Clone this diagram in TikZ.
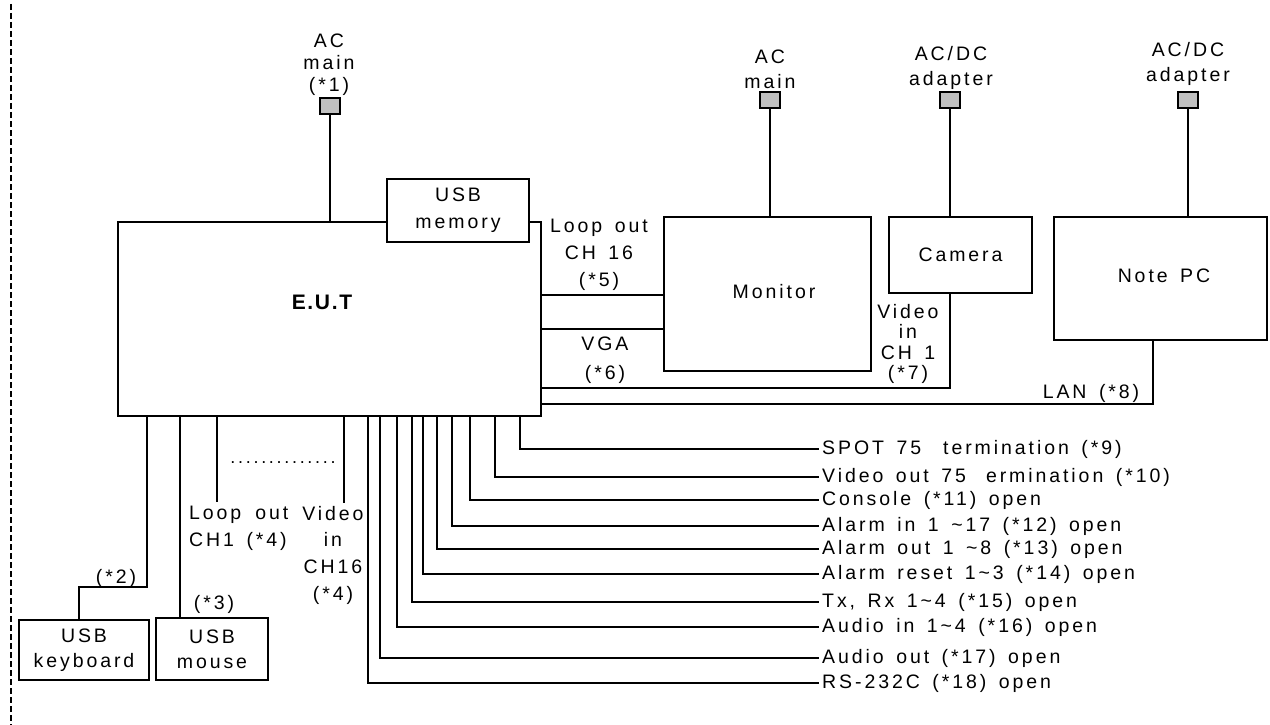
\documentclass[tikz,border=0pt]{standalone}
\usepackage{fontspec}
\setmainfont{Liberation Sans}
\newfontfamily\spfont[LetterSpace=15,WordSpace=1.5]{Liberation Sans}
\newfontfamily\bdfont[LetterSpace=8]{Liberation Sans Bold}
\definecolor{plugGray}{HTML}{C0C0C0}
\begin{document}
\begin{tikzpicture}[x=1pt,y=-1pt,
  every node/.style={font=\spfont\fontsize{19.5}{22}\selectfont, inner sep=0pt, align=center},
  box/.style={draw, line width=1.4pt, fill=white},
  plug/.style={draw, line width=1.4pt, fill=plugGray, minimum width=20pt, minimum height=16pt},
  wire/.style={line width=1.4pt},
  lsA/.style={font=\spfont\fontsize{19.5}{22}\selectfont},
  lsB/.style={font=\spfont\fontsize{19.5}{25}\selectfont},
  lsC/.style={font=\spfont\fontsize{19.5}{27}\selectfont},
  lsD/.style={font=\spfont\fontsize{19.5}{29}\selectfont},
  lsE/.style={font=\spfont\fontsize{19.5}{20.5}\selectfont},
  port/.style={anchor=west, inner xsep=3pt}]
\useasboundingbox (0,0) rectangle (1270,725);

% left boundary
\draw[dash pattern=on 6pt off 3pt, line width=1.5pt] (11,4) -- (11,725);

% main boxes
\node[box, minimum width=423pt, minimum height=194pt] (eut) at (329.5,319) {};
\node[font=\bdfont\fontsize{21}{24}\selectfont] (euttxt) at (322,302) {E.U.T};
\node[box, lsC, minimum width=142pt, minimum height=63pt] (mem) at (458,210.5) {USB\\memory};
\node[box, minimum width=207pt, minimum height=154pt] (mon) at (767.5,294) {};
\node (montxt) at (774,292) {Monitor};
\node[box, minimum width=143pt, minimum height=76pt] (cam) at (960.5,255) {Camera};
\node[box, minimum width=213pt, minimum height=123pt] (pc) at (1160.5,278.5) {};
\node (pctxt) at (1164,276) {Note PC};
\node[box, lsB, minimum width=130pt, minimum height=60pt] (kb) at (84,650) {USB\\keyboard};
\node[box, lsB, minimum width=112pt, minimum height=62pt] (mouse) at (212,649) {USB\\mouse};

% power plugs
\node[plug] (p1) at (330,106) {};
\node[plug] (p2) at (770,100) {};
\node[plug] (p3) at (950,100) {};
\node[plug] (p4) at (1188,100) {};
\node[lsA] (p1l) at (329,64.5) {AC\\main\\(*1)};
\node[lsB] (p2l) at (770,69) {AC\\main};
\node[lsB] (p3l) at (951,68) {AC/DC\\adapter};
\node[lsB] (p4l) at (1188,63.5) {AC/DC\\adapter};
\draw[wire] (p1.south) -- (p1.south |- eut.north);
\draw[wire] (p2.south) -- (p2.south |- mon.north);
\draw[wire] (p3.south) -- (p3.south |- cam.north);
\draw[wire] (p4.south) -- (p4.south |- pc.north);

% right side connections
\coordinate (w5) at (664,295);
\coordinate (w5b) at (664,329);
\coordinate (w7) at (950,388);
\coordinate (w8) at (1153,404);
\draw[wire] (w5 -| eut.east) -- (w5 -| mon.west);
\draw[wire] (w5b -| eut.east) -- (w5b -| mon.west);
\draw[wire] (p3 |- cam.south) |- (eut.east |- w7);
\draw[wire] (w8 |- pc.south) |- (eut.east |- w8);
\node[lsC] (l5) at (599,255) {Loop out\\CH 16\\(*5)};
\node[lsD] (l6) at (605,360) {VGA\\(*6)};
\node[lsE] (l7) at (908,344) {Video\\in\\CH 1\\(*7)};
\node (l8) at (1091,393) {LAN (*8)};

% bottom ports to the right
\node[port] (l9)  at (819,449) {SPOT 75\hspace{22pt}termination (*9)};
\node[port] (l10) at (819,477) {Video out 75\hspace{20pt}ermination (*10)};
\node[port] (l11) at (819,500) {Console (*11) open};
\node[port] (l12) at (819,526) {Alarm in 1 \textasciitilde17 (*12) open};
\node[port] (l13) at (819,549) {Alarm out 1 \textasciitilde8 (*13) open};
\node[port] (l14) at (819,574) {Alarm reset 1\textasciitilde3 (*14) open};
\node[port] (l15) at (819,602) {Tx, Rx 1\textasciitilde4 (*15) open};
\node[port] (l16) at (819,627) {Audio in 1\textasciitilde4 (*16) open};
\node[port] (l17) at (819,658) {Audio out (*17) open};
\node[port] (l18) at (819,683) {RS-232C (*18) open};
\coordinate (b9)  at (520,416);
\coordinate (b10) at (495,416);
\coordinate (b11) at (470,416);
\coordinate (b12) at (452,416);
\coordinate (b13) at (437,416);
\coordinate (b14) at (423,416);
\coordinate (b15) at (412,416);
\coordinate (b16) at (397,416);
\coordinate (b17) at (380,416);
\coordinate (b18) at (368,416);
\foreach \i in {9,...,18} { \draw[wire] (b\i) |- (l\i.west); }

% bottom left connections
\coordinate (b2) at (147,416);
\coordinate (k2) at (79,587);
\coordinate (b3) at (180,416);
\coordinate (b4a) at (217,416);
\coordinate (b4b) at (344,416);
\draw[wire] (b2) |- (k2) -- (k2 |- kb.north);
\draw[wire] (b3) -- (b3 |- mouse.north);
\draw[wire] (b4a) -- ++(0,86);
\draw[wire] (b4b) -- ++(0,87);
\node (l2) at (116,578) {(*2)};
\node (l3) at (214,604) {(*3)};
\node[lsC, align=left, anchor=west] (l4a) at (189,528.5) {Loop\hspace{14pt}out\\CH1 (*4)};
\node[font=\spfont\fontsize{19.5}{26.7}\selectfont] (l4b) at (333,555) {Video\\in\\CH16\\(*4)};
\node[font=\spfont\fontsize{18}{22}\selectfont] (dots) at (283,463) {..............};
\end{tikzpicture}
\end{document}
